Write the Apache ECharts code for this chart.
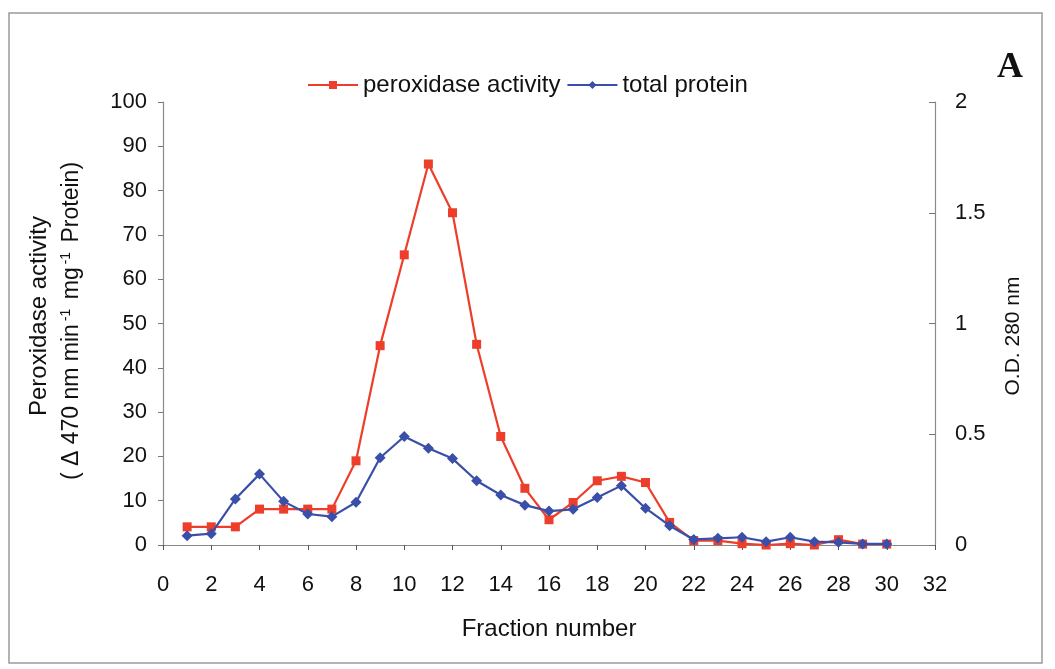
<!DOCTYPE html>
<html>
<head>
<meta charset="utf-8">
<script src="https://cdn.jsdelivr.net/npm/echarts@6/dist/echarts.min.js"></script>
<style>
  html, body { margin: 0; padding: 0; background: #fff; }
  #chart { width: 1055px; height: 669px; }
</style>
</head>
<body>
<div id="chart"></div>
<script>
// Fraction numbers collected from the column
const fractions = [1,2,3,4,5,6,7,8,9,10,11,12,13,14,15,16,17,18,19,20,21,22,23,24,25,26,27,28,29,30];
// Peroxidase activity (Δ470 nm min-1 mg-1 protein)
const peroxidase = [4.1,4.1,4.1,8.1,8.1,8.1,8.1,19,45,65.5,86,75,45.3,24.5,12.8,5.7,9.6,14.5,15.5,14.1,5.1,1.0,1.0,0.3,0,0.3,0,1.2,0.2,0.2];
// Total protein, O.D. 280 nm
const protein = [0.042,0.051,0.208,0.32,0.197,0.14,0.128,0.193,0.394,0.49,0.437,0.39,0.29,0.226,0.18,0.153,0.161,0.214,0.268,0.166,0.087,0.025,0.03,0.035,0.015,0.035,0.015,0.012,0.005,0.005];

const RED = '#EC3E2A';
const BLUE = '#3A4FA8';
const INK = '#111';
const FONT = 'Liberation Sans, Arial, sans-serif';

const chart = echarts.init(document.getElementById('chart'), null, { renderer: 'canvas' });

const axisLine = { show: true, lineStyle: { color: '#8a8a8a', width: 1.2 } };
const tickLabel = { color: INK, fontFamily: FONT, fontSize: 22 };

chart.setOption({
  backgroundColor: '#fff',
  animation: false,
  grid: { left: 163, right: 120, top: 102, bottom: 124 },
  legend: {
    top: 68,
    left: 302,
    itemWidth: 50,
    itemHeight: 10,
    itemGap: 6,
    textStyle: { color: INK, fontFamily: FONT, fontSize: 24 },
    data: ['peroxidase activity', 'total protein']
  },
  xAxis: {
    type: 'value',
    min: 0, max: 32, interval: 2,
    name: 'Fraction number',
    nameLocation: 'middle',
    nameGap: 72,
    nameTextStyle: { color: INK, fontFamily: FONT, fontSize: 24 },
    axisLine: axisLine,
    axisTick: { show: true, length: 5, lineStyle: { color: '#555' } },
    axisLabel: Object.assign({ margin: 29 }, tickLabel),
    splitLine: { show: false }
  },
  yAxis: [
    {
      type: 'value',
      min: 0, max: 100, interval: 10,
      position: 'left',
      axisLine: axisLine,
      axisTick: { show: true, length: 5, lineStyle: { color: '#777' } },
      axisLabel: Object.assign({ margin: 16 }, tickLabel),
      splitLine: { show: false }
    },
    {
      type: 'value',
      min: 0, max: 2, interval: 0.5,
      position: 'right',
      axisLine: axisLine,
      axisTick: { show: true, length: 6, inside: true, lineStyle: { color: '#777' } },
      axisLabel: Object.assign({ margin: 20 }, tickLabel),
      splitLine: { show: false }
    }
  ],
  series: [
    {
      name: 'peroxidase activity',
      type: 'line',
      yAxisIndex: 0,
      data: fractions.map((f, i) => [f, peroxidase[i]]),
      symbol: 'rect',
      symbolSize: 9,
      lineStyle: { color: RED, width: 2.2 },
      itemStyle: { color: RED },
      z: 2
    },
    {
      name: 'total protein',
      type: 'line',
      yAxisIndex: 1,
      data: fractions.map((f, i) => [f, protein[i]]),
      symbol: 'diamond',
      symbolSize: 11,
      lineStyle: { color: BLUE, width: 2.2 },
      itemStyle: { color: BLUE },
      z: 3
    }
  ],
  graphic: [
    {
      type: 'rect',
      shape: { x: 9, y: 13, width: 1033, height: 650 },
      style: { fill: 'none', stroke: '#9a9a9a', lineWidth: 1.5 },
      silent: true
    },
    {
      type: 'text',
      x: 39, y: 316,
      rotation: Math.PI / 2,
      style: {
        text: 'Peroxidase activity',
        fill: INK, font: '24px ' + FONT,
        align: 'center', verticalAlign: 'middle'
      }
    },
    {
      type: 'text',
      x: 72, y: 321,
      rotation: Math.PI / 2,
      style: {
        text: '{n|( \u0394 470 nm min}{s|-1}{n| mg}{s|-1}{n| Protein)}',
        align: 'center', verticalAlign: 'middle',
        rich: {
          n: { fill: INK, fontFamily: FONT, fontSize: 23 },
          s: { fill: INK, fontFamily: FONT, fontSize: 14, verticalAlign: 'top', padding: [0, 3, 12, 3] }
        }
      }
    },
    {
      type: 'text',
      x: 1013, y: 336,
      rotation: Math.PI / 2,
      style: {
        text: 'O.D. 280 nm',
        fill: INK, font: '21px ' + FONT,
        align: 'center', verticalAlign: 'middle'
      }
    },
    {
      type: 'text',
      x: 1010, y: 68,
      style: {
        text: 'A',
        fill: INK, font: 'bold 36px Liberation Serif, Times New Roman, serif',
        align: 'center', verticalAlign: 'middle'
      }
    }
  ]
});
</script>
</body>
</html>
